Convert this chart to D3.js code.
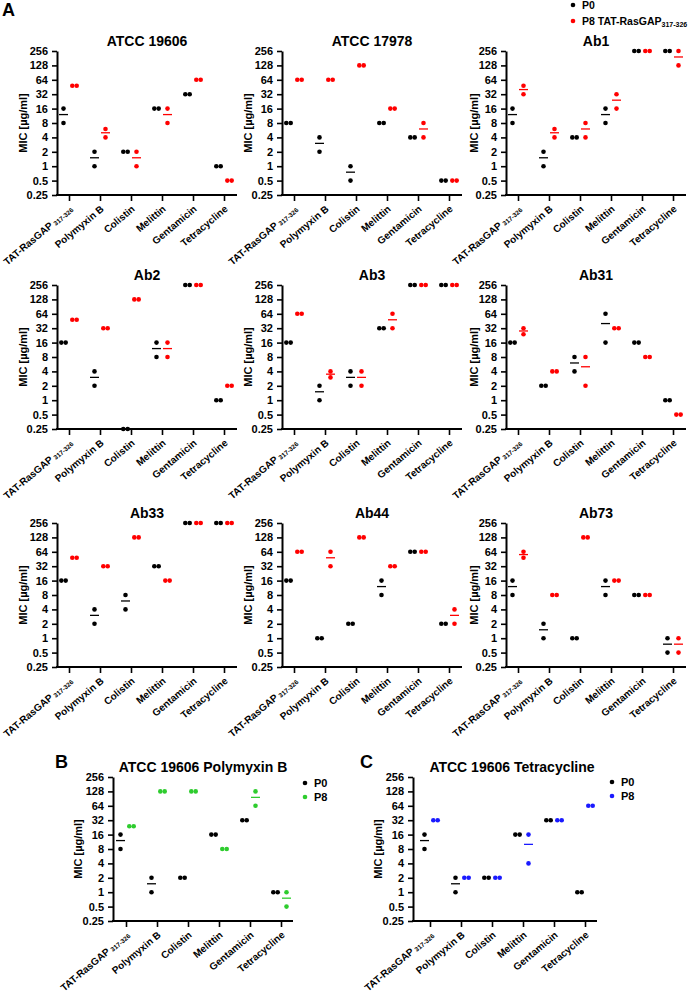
<!DOCTYPE html>
<html><head><meta charset="utf-8">
<script src="https://cdn.jsdelivr.net/npm/d3@7"></script>
<style>
body{margin:0;background:#fff}
text{font-family:"Liberation Sans",Arial,sans-serif;font-weight:bold;fill:#000}
</style>
</head><body><svg id="c" width="690" height="995"></svg>
<script>
// ---------- data ----------
const categories = ["TAT-RasGAP", "Polymyxin B", "Colistin", "Melittin", "Gentamicin", "Tetracycline"];
const yTicks = [0.25, 0.5, 1, 2, 4, 8, 16, 32, 64, 128, 256];
const panelTitlesA = ["ATCC 19606", "ATCC 17978", "Ab1", "Ab2", "Ab3", "Ab31", "Ab33", "Ab44", "Ab73"];
const seriesNames = ["P0", "P8"];

// each entry = two replicate MIC values per category
const p0_ATCC19606 = [[16,8],[2,1],[2,2],[16,16],[32,32],[1,1]];
const p8_ATCC19606 = [[48,48],[6,4],[2,1],[16,8],[64,64],[0.5,0.5]];
const p0_ATCC17978 = [[8,8],[4,2],[1,0.5],[8,8],[4,4],[0.5,0.5]];
const p8_ATCC17978 = [[64,64],[64,64],[128,128],[16,16],[8,4],[0.5,0.5]];
const p0_Ab1 = [[16,8],[2,1],[4,4],[16,8],[256,256],[256,256]];
const p8_Ab1 = [[48,32],[6,4],[8,4],[32,16],[256,256],[256,128]];
const p0_Ab2 = [[16,16],[4,2],[0.25,0.25],[16,8],[256,256],[1,1]];
const p8_Ab2 = [[48,48],[32,32],[128,128],[16,8],[256,256],[2,2]];
const p0_Ab3 = [[16,16],[2,1],[4,2],[32,32],[256,256],[256,256]];
const p8_Ab3 = [[64,64],[4,3],[4,2],[64,32],[256,256],[256,256]];
const p0_Ab31 = [[16,16],[2,2],[8,4],[64,16],[16,16],[1,1]];
const p8_Ab31 = [[32,24],[4,4],[8,2],[32,32],[8,8],[0.5,0.5]];
const p0_Ab33 = [[16,16],[4,2],[8,4],[32,32],[256,256],[256,256]];
const p8_Ab33 = [[48,48],[32,32],[128,128],[16,16],[256,256],[256,256]];
const p0_Ab44 = [[16,16],[1,1],[2,2],[16,8],[64,64],[2,2]];
const p8_Ab44 = [[64,64],[64,32],[128,128],[32,32],[64,64],[4,2]];
const p0_Ab73 = [[16,8],[2,1],[1,1],[16,8],[8,8],[1,0.5]];
const p8_Ab73 = [[64,48],[8,8],[128,128],[16,16],[8,8],[1,0.5]];
const p0_PolymyxinB = [[16,8],[2,1],[2,2],[16,16],[32,32],[1,1]];
const p8_PolymyxinB = [[24,24],[128,128],[128,128],[8,8],[128,64],[1,0.5]];
const p0_Tetracycline = [[16,8],[2,1],[2,2],[16,16],[32,32],[1,1]];
const p8_Tetracycline = [[32,32],[2,2],[2,2],[16,4],[32,32],[64,64]];

const p0A = [p0_ATCC19606, p0_ATCC17978, p0_Ab1, p0_Ab2, p0_Ab3, p0_Ab31, p0_Ab33, p0_Ab44, p0_Ab73];
const p8A = [p8_ATCC19606, p8_ATCC17978, p8_Ab1, p8_Ab2, p8_Ab3, p8_Ab31, p8_Ab33, p8_Ab44, p8_Ab73];

// ---------- drawing ----------
const svg = d3.select("#c");
svg.append("rect").attr("width",690).attr("height",995).attr("fill","#fff");

function panel(o) {
  const g = svg.append("g");
  const y = d3.scaleLog().base(2).domain([0.25, 256]).range([o.bottom, o.top]);
  const x = d3.scalePoint().domain(categories).range([o.x0 + o.first, o.x0 + o.first + 155]);

  // y axis
  const ya = g.append("g").attr("transform", `translate(${o.x0},0)`)
    .call(d3.axisLeft(y).tickValues(yTicks).tickFormat(d => d).tickSize(5).tickSizeOuter(0).tickPadding(4));
  ya.select(".domain").attr("stroke-width", 2).attr("stroke","#000");
  ya.selectAll(".tick line").attr("stroke-width", 1.6).attr("stroke","#000");
  ya.selectAll(".tick text").attr("font-size", 11).attr("font-family",'"Liberation Sans",Arial,sans-serif').attr("font-weight","bold");

  // x axis
  g.append("line").attr("x1", o.x0 - 1).attr("x2", o.x0 + o.len).attr("y1", o.bottom).attr("y2", o.bottom)
    .attr("stroke", "#000").attr("stroke-width", 2);
  const xa = g.append("g").attr("transform", `translate(0,${o.bottom})`)
    .call(d3.axisBottom(x).tickSize(6).tickSizeOuter(0).tickFormat(""));
  xa.select(".domain").remove();
  xa.selectAll(".tick line").attr("stroke-width", 1.6).attr("stroke","#000");
  xa.selectAll(".tick").each(function(d) {
    const t = d3.select(this).append("text")
      .attr("transform", "translate(4,15) rotate(-40)")
      .attr("text-anchor", "end").attr("font-size", 10).attr("fill","#000");
    if (d === "TAT-RasGAP") {
      t.append("tspan").text("TAT-RasGAP");
      t.append("tspan").attr("font-size", 6.5).attr("dx", 2).attr("dy", 1).text("317-326");
    } else t.text(d);
  });

  // y title
  g.append("text").attr("transform", `translate(${o.micX},${(o.top + o.bottom) / 2}) rotate(-90)`)
    .attr("text-anchor", "middle").attr("dy", "0.35em").attr("font-size", 11).text("MIC [µg/ml]");
  // title
  g.append("text").attr("x", o.titleX).attr("y", o.top - 5).attr("text-anchor", "middle")
    .attr("font-size", 14).text(o.title);

  // data
  const series = [{vals: o.p0, col: "#000", off: -5.5}, {vals: o.p8, col: o.col, off: 5.5}];
  series.forEach(s => {
    s.vals.forEach((v, i) => {
      const cx = x(categories[i]) + s.off;
      const m = d3.mean(v);
      if (v[0] === v[1]) {
        g.append("circle").attr("cx", cx - 2.2).attr("cy", y(v[0])).attr("r", 2.3).attr("fill", s.col);
        g.append("circle").attr("cx", cx + 2.2).attr("cy", y(v[1])).attr("r", 2.3).attr("fill", s.col);
      } else {
        g.append("line").attr("x1", cx - 4.5).attr("x2", cx + 4.5).attr("y1", y(m)).attr("y2", y(m))
          .attr("stroke", s.col).attr("stroke-width", 1.3);
        v.forEach(val => g.append("circle").attr("cx", cx).attr("cy", y(val)).attr("r", 2.3).attr("fill", s.col));
      }
    });
  });
}

const colX = [57, 282, 506];
const micXA = [23, 248, 474];
const rowTop = [51, 285, 523];
for (let k = 0; k < 9; k++) {
  const r = Math.floor(k / 3), c = k % 3;
  panel({x0: colX[c], top: rowTop[r], bottom: rowTop[r] + 144, first: 12, len: 180,
    micX: micXA[c], titleX: colX[c] + 90, title: panelTitlesA[k], p0: p0A[k], p8: p8A[k], col: "#ff0000"});
}
panel({x0: 113, top: 777, bottom: 921, first: 13, len: 180, micX: 78, titleX: 203,
  title: "ATCC 19606 Polymyxin B", p0: p0_PolymyxinB, p8: p8_PolymyxinB, col: "#2ecc2e"});
panel({x0: 413, top: 777, bottom: 921, first: 17, len: 184, micX: 378, titleX: 512,
  title: "ATCC 19606 Tetracycline", p0: p0_Tetracycline, p8: p8_Tetracycline, col: "#1a1aff"});

// panel letters
[["A", 2, 16], ["B", 55, 768], ["C", 360, 768]].forEach(l =>
  svg.append("text").attr("x", l[1]).attr("y", l[2]).attr("font-size", 18).text(l[0]));

// legends
function legend(x, y, col, label, sub, fs) {
  svg.append("circle").attr("cx", x).attr("cy", y).attr("r", 2.3).attr("fill", col);
  const t = svg.append("text").attr("x", x + 9).attr("y", y + 4).attr("font-size", fs || 11).text(label);
  if (sub) t.append("tspan").attr("font-size", 7).attr("dy", 2).text(sub);
}
legend(573, 5, "#000", seriesNames[0], null, 10.5);
legend(573, 21, "#ff0000", seriesNames[1] + " TAT-RasGAP", "317-326", 10.5);
legend(305, 783, "#000", seriesNames[0]);
legend(305, 797, "#2ecc2e", seriesNames[1]);
legend(612, 782, "#000", seriesNames[0]);
legend(612, 796, "#1a1aff", seriesNames[1]);
</script>
</body></html>
